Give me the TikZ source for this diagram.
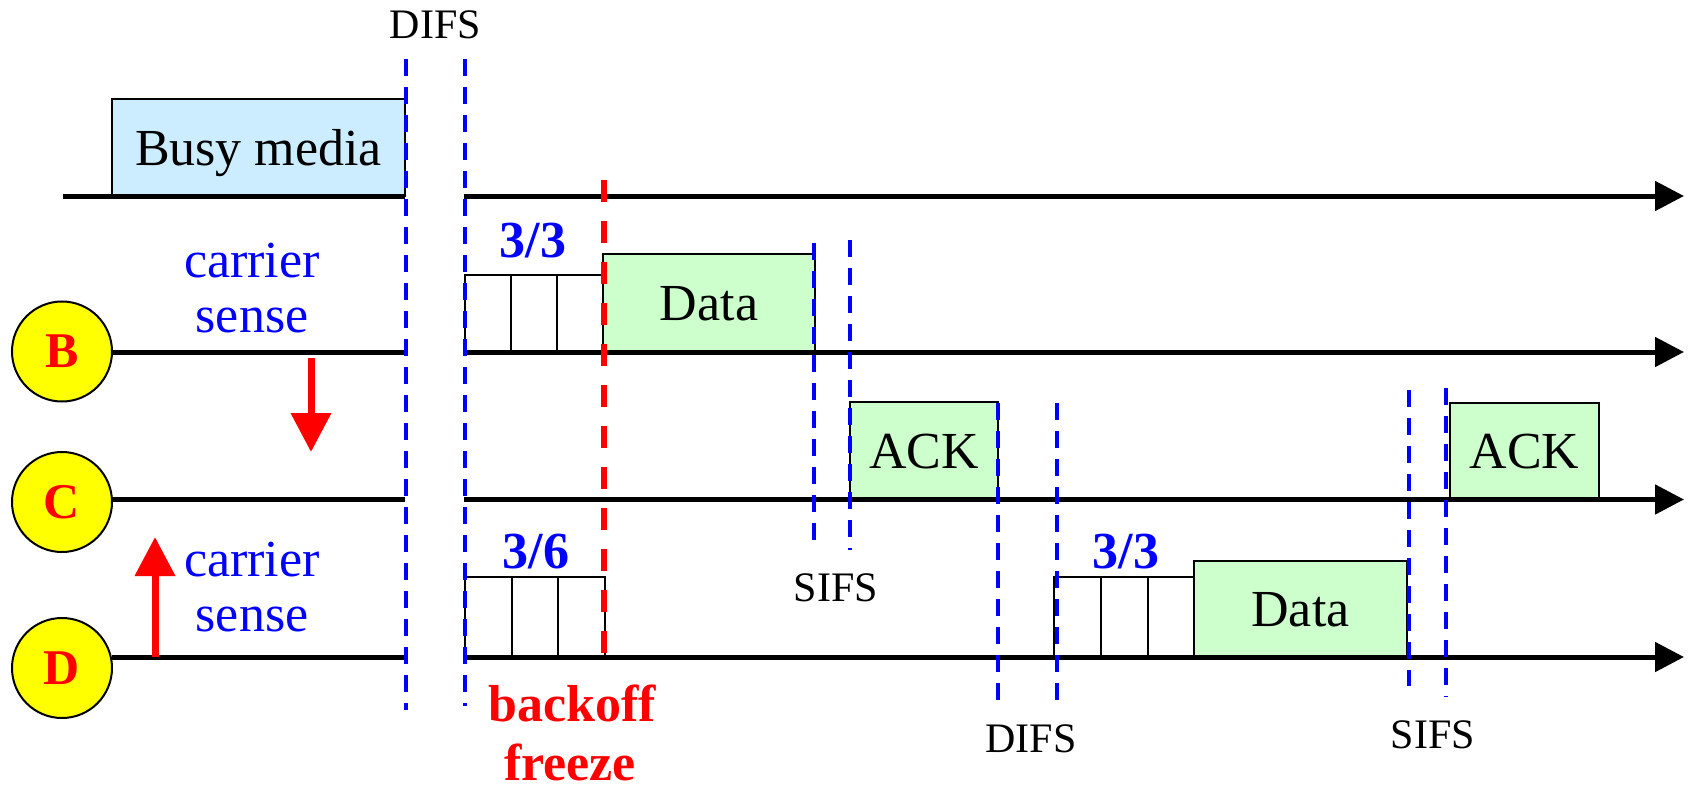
\documentclass[tikz,border=0pt]{standalone}
\usepackage{fontspec}
\setmainfont{Liberation Serif}
\usetikzlibrary{arrows.meta}
\definecolor{busyblue}{HTML}{CCECFF}
\definecolor{pktgreen}{HTML}{CCFFCC}
\definecolor{pblue}{HTML}{0000FF}
\definecolor{pred}{HTML}{FF0000}
\definecolor{pyellow}{HTML}{FFFF00}
\newcommand{\bigtxt}{\fontsize{52}{56}\selectfont}
\newcommand{\smalltxt}{\fontsize{42}{46}\selectfont}
\tikzset{
  timeline/.style={line width=5pt, draw=black},
  tarrow/.style={timeline, -{Triangle[length=29pt,width=29pt]}},
  ifsline/.style={draw=pblue, line width=4pt, dash pattern=on 17pt off 11pt},
  freezeline/.style={draw=pred, line width=6pt, dash pattern=on 22pt off 19pt},
  redarrow/.style={draw=pred, line width=7pt, -{Triangle[length=39pt,width=39pt]}},
  station/.style={circle, draw=black, line width=2pt, fill=pyellow, minimum size=100pt,
    inner sep=0pt, font=\fontsize{50}{50}\selectfont\bfseries, text=pred},
  frame/.style={draw=black, line width=2pt, inner sep=0pt, font=\bigtxt,
    text height=35pt, text depth=0pt},
  slotbox/.style={draw=black, line width=2pt},
  bluetxt/.style={font=\bigtxt, text=pblue, anchor=base, inner sep=0pt},
  countlbl/.style={font=\bigtxt\bfseries, text=pblue, anchor=base, inner sep=0pt},
  freezetxt/.style={font=\bigtxt\bfseries, text=pred, anchor=base, inner sep=0pt},
  ifslbl/.style={font=\smalltxt, text=black, anchor=base, inner sep=0pt},
}
\begin{document}
\begin{tikzpicture}[x=1pt, y=-1pt]
\useasboundingbox (0,0) rectangle (1690,789);

% stations
\node[station] (B) at (62,351.5) {B};
\node[station] (C) at (62,502) {C};
\node[station] (D) at (62,668) {D};

% frames
\node[frame, fill=busyblue, minimum width=293pt, minimum height=97pt] (busy) at (258.5,147.5) {Busy media};
\node[frame, fill=pktgreen, minimum width=212pt, minimum height=98pt] (dataB) at (709,303) {Data};
\node[frame, fill=pktgreen, minimum width=148pt, minimum height=97pt] (ackC) at (924,450.5) {ACK};
\node[frame, fill=pktgreen, minimum width=149pt, minimum height=96pt] (ackC2) at (1524.5,451) {ACK};
\node[frame, fill=pktgreen, minimum width=213pt, minimum height=95pt] (dataD) at (1300.5,608.5) {Data};

% backoff slots
\draw[slotbox] (465,275) rectangle (603,352);
\draw[slotbox] (511,275) -- (511,352);
\draw[slotbox] (557,275) -- (557,352);
\draw[slotbox] (465,577) rectangle (605,657);
\draw[slotbox] (512,577) -- (512,657);
\draw[slotbox] (558,577) -- (558,657);
\draw[slotbox] (1054,577) rectangle (1194,657);
\draw[slotbox] (1101,577) -- (1101,657);
\draw[slotbox] (1148,577) -- (1148,657);

% timelines
\coordinate (m0) at (63,196);
\coordinate (gl) at (405,0);
\coordinate (gr) at (464,0);
\coordinate (tend) at (1684,0);
\coordinate (b0) at (112,352);
\coordinate (c0) at (112,499.5);
\coordinate (d0) at (112,657);
\draw[timeline] (m0) -- (m0 -| gl);
\draw[tarrow] (m0 -| gr) -- (m0 -| tend);
\draw[timeline] (b0) -- (b0 -| gl);
\draw[tarrow] (b0 -| gr) -- (b0 -| tend);
\draw[timeline] (c0) -- (c0 -| gl);
\draw[tarrow] (c0 -| gr) -- (c0 -| tend);
\draw[timeline] (d0) -- (d0 -| gl);
\draw[tarrow] (d0 -| gr) -- (d0 -| tend);

% interframe spaces
\coordinate (v1a) at (406,59);   \coordinate (v1b) at (406,710);
\coordinate (v2a) at (465,59);   \coordinate (v2b) at (465,706);
\coordinate (v3a) at (814,243);  \coordinate (v3b) at (814,540);
\coordinate (v4a) at (850,240);  \coordinate (v4b) at (850,550);
\coordinate (v5a) at (998,403);  \coordinate (v5b) at (998,700);
\coordinate (v6a) at (1057,403); \coordinate (v6b) at (1057,700);
\coordinate (v7a) at (1409,390); \coordinate (v7b) at (1409,686);
\coordinate (v8a) at (1446,388); \coordinate (v8b) at (1446,697);
\foreach \i in {1,...,8} { \draw[ifsline] (v\i a) -- (v\i b); }

% backoff freeze line
\coordinate (fa) at (604,180);
\coordinate (fb) at (604,662);
\draw[freezeline] (fa) -- (fb);

% carrier sense arrows
\coordinate (dnA) at (311,358);
\coordinate (dnB) at (311,452);
\coordinate (upA) at (155,657);
\coordinate (upB) at (155,537);
\draw[redarrow] (dnA) -- (dnB);
\draw[redarrow] (upA) -- (upB);

% labels
\node[ifslbl] (difs1) at (435.5,39) {DIFS};
\node[ifslbl] (sifs1) at (836,601) {SIFS};
\node[ifslbl] (difs2) at (1031,752) {DIFS};
\node[ifslbl] (sifs2) at (1433,748) {SIFS};

\node[bluetxt] (csB1) at (252,277) {carrier};
\node[bluetxt] (csB2) at (252,332) {sense};
\node[bluetxt] (csD1) at (252,576) {carrier};
\node[bluetxt] (csD2) at (252,631) {sense};

\node[countlbl] (cnt1) at (533,257) {3/3};
\node[countlbl] (cnt2) at (536,568) {3/6};
\node[countlbl] (cnt3) at (1126,568) {3/3};

\node[freezetxt] (bf1) at (572,721) {backoff};
\node[freezetxt] (bf2) at (570,780) {freeze};
\end{tikzpicture}
\end{document}
